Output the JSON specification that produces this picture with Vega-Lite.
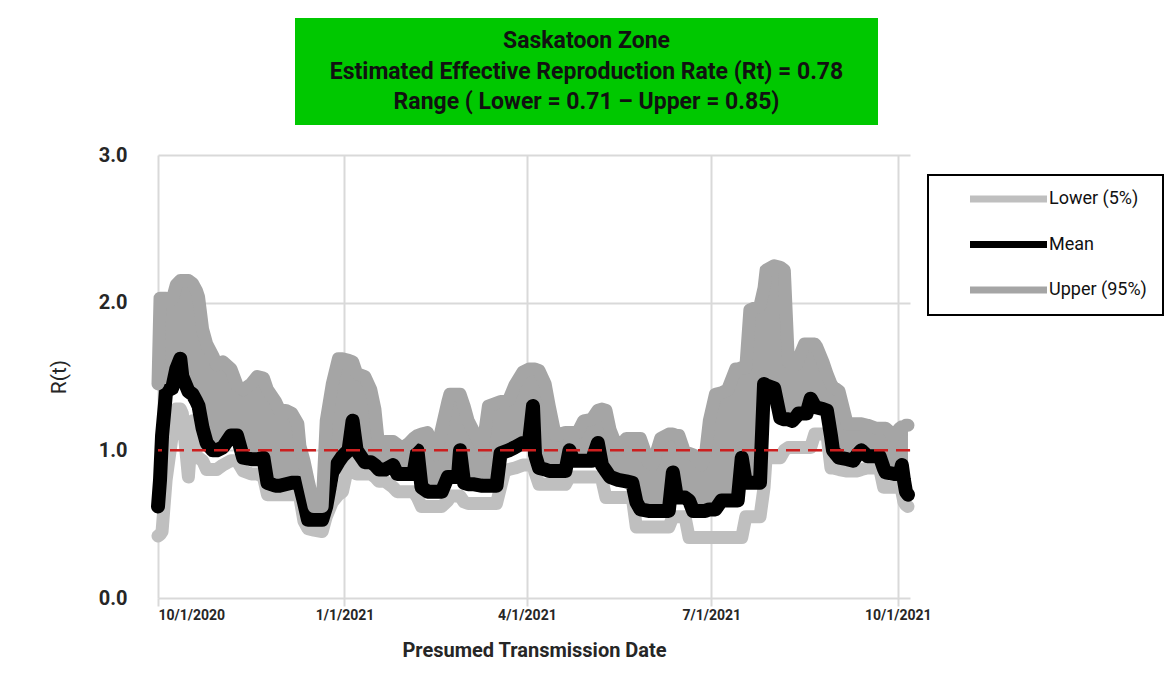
{
  "$schema": "https://vega.github.io/schema/vega-lite/v6.json",
  "autosize": {"type": "none"},
  "padding": {"left": 158, "top": 18, "right": 1014, "bottom": 679},
  "background": "white",
  "spacing": 20,
  "config": {
    "font": "Roboto, sans-serif",
    "view": {"stroke": null},
    "legend": {"strokeWidth": 2}
  },
  "datasets": {
    "rt": [
      {"date":"2020-10-01","lower":0.42,"mean":0.62,"upper":1.45},
      {"date":"2020-10-02","lower":0.43,"mean":0.80,"upper":2.03},
      {"date":"2020-10-03","lower":0.45,"mean":1.10,"upper":2.03},
      {"date":"2020-10-05","lower":0.80,"mean":1.40,"upper":2.03},
      {"date":"2020-10-08","lower":1.10,"mean":1.42,"upper":2.02},
      {"date":"2020-10-10","lower":1.28,"mean":1.55,"upper":2.12},
      {"date":"2020-10-12","lower":1.28,"mean":1.62,"upper":2.15},
      {"date":"2020-10-13","lower":1.25,"mean":1.50,"upper":2.15},
      {"date":"2020-10-16","lower":0.82,"mean":1.40,"upper":2.15},
      {"date":"2020-10-18","lower":1.20,"mean":1.38,"upper":2.13},
      {"date":"2020-10-20","lower":0.95,"mean":1.33,"upper":2.08},
      {"date":"2020-10-21","lower":0.95,"mean":1.30,"upper":2.04},
      {"date":"2020-10-23","lower":0.93,"mean":1.15,"upper":1.82},
      {"date":"2020-10-25","lower":0.87,"mean":1.05,"upper":1.72},
      {"date":"2020-10-28","lower":0.87,"mean":1.00,"upper":1.64},
      {"date":"2020-10-30","lower":0.87,"mean":1.00,"upper":1.58},
      {"date":"2020-11-02","lower":0.90,"mean":1.02,"upper":1.60},
      {"date":"2020-11-06","lower":0.93,"mean":1.10,"upper":1.55},
      {"date":"2020-11-09","lower":0.93,"mean":1.10,"upper":1.44},
      {"date":"2020-11-12","lower":0.86,"mean":0.95,"upper":1.41},
      {"date":"2020-11-16","lower":0.84,"mean":0.94,"upper":1.45},
      {"date":"2020-11-19","lower":0.84,"mean":0.94,"upper":1.50},
      {"date":"2020-11-22","lower":0.82,"mean":0.95,"upper":1.49},
      {"date":"2020-11-24","lower":0.70,"mean":0.78,"upper":1.41},
      {"date":"2020-11-28","lower":0.70,"mean":0.76,"upper":1.33},
      {"date":"2020-11-30","lower":0.70,"mean":0.76,"upper":1.27},
      {"date":"2020-12-03","lower":0.70,"mean":0.77,"upper":1.27},
      {"date":"2020-12-06","lower":0.70,"mean":0.78,"upper":1.25},
      {"date":"2020-12-09","lower":0.70,"mean":0.78,"upper":1.18},
      {"date":"2020-12-10","lower":0.68,"mean":0.76,"upper":1.03},
      {"date":"2020-12-12","lower":0.52,"mean":0.65,"upper":0.93},
      {"date":"2020-12-14","lower":0.47,"mean":0.53,"upper":0.80},
      {"date":"2020-12-17","lower":0.46,"mean":0.53,"upper":0.62},
      {"date":"2020-12-21","lower":0.45,"mean":0.53,"upper":0.62},
      {"date":"2020-12-23","lower":0.55,"mean":0.62,"upper":1.20},
      {"date":"2020-12-26","lower":0.65,"mean":0.85,"upper":1.45},
      {"date":"2020-12-29","lower":0.70,"mean":0.92,"upper":1.62},
      {"date":"2020-12-31","lower":0.72,"mean":0.96,"upper":1.62},
      {"date":"2021-01-03","lower":0.91,"mean":1.00,"upper":1.61},
      {"date":"2021-01-05","lower":0.95,"mean":1.20,"upper":1.60},
      {"date":"2021-01-07","lower":0.84,"mean":1.00,"upper":1.52},
      {"date":"2021-01-11","lower":0.84,"mean":0.92,"upper":1.50},
      {"date":"2021-01-14","lower":0.84,"mean":0.92,"upper":1.41},
      {"date":"2021-01-16","lower":0.82,"mean":0.90,"upper":1.28},
      {"date":"2021-01-18","lower":0.79,"mean":0.87,"upper":1.01},
      {"date":"2021-01-21","lower":0.79,"mean":0.87,"upper":1.06},
      {"date":"2021-01-25","lower":0.75,"mean":0.90,"upper":1.06},
      {"date":"2021-01-27","lower":0.72,"mean":0.84,"upper":1.04},
      {"date":"2021-01-29","lower":0.72,"mean":0.84,"upper":1.01},
      {"date":"2021-02-02","lower":0.72,"mean":0.84,"upper":1.05},
      {"date":"2021-02-04","lower":0.72,"mean":0.84,"upper":1.08},
      {"date":"2021-02-06","lower":0.68,"mean":1.00,"upper":1.10},
      {"date":"2021-02-08","lower":0.62,"mean":0.75,"upper":1.11},
      {"date":"2021-02-11","lower":0.62,"mean":0.72,"upper":1.12},
      {"date":"2021-02-15","lower":0.62,"mean":0.72,"upper":0.97},
      {"date":"2021-02-18","lower":0.62,"mean":0.72,"upper":1.15},
      {"date":"2021-02-21","lower":0.66,"mean":0.82,"upper":1.33},
      {"date":"2021-02-22","lower":0.69,"mean":0.82,"upper":1.38},
      {"date":"2021-02-26","lower":0.69,"mean":0.82,"upper":1.38},
      {"date":"2021-02-27","lower":0.69,"mean":1.00,"upper":1.38},
      {"date":"2021-03-01","lower":0.65,"mean":0.78,"upper":1.30},
      {"date":"2021-03-03","lower":0.64,"mean":0.77,"upper":1.20},
      {"date":"2021-03-06","lower":0.64,"mean":0.77,"upper":1.12},
      {"date":"2021-03-10","lower":0.64,"mean":0.76,"upper":1.00},
      {"date":"2021-03-13","lower":0.64,"mean":0.76,"upper":1.30},
      {"date":"2021-03-17","lower":0.64,"mean":0.76,"upper":1.32},
      {"date":"2021-03-19","lower":0.75,"mean":0.98,"upper":1.33},
      {"date":"2021-03-21","lower":0.86,"mean":0.99,"upper":1.33},
      {"date":"2021-03-23","lower":0.87,"mean":1.00,"upper":1.34},
      {"date":"2021-03-26","lower":0.88,"mean":1.02,"upper":1.44},
      {"date":"2021-03-30","lower":0.90,"mean":1.05,"upper":1.53},
      {"date":"2021-04-02","lower":0.90,"mean":1.05,"upper":1.55},
      {"date":"2021-04-04","lower":0.90,"mean":1.30,"upper":1.55},
      {"date":"2021-04-05","lower":0.85,"mean":0.97,"upper":1.55},
      {"date":"2021-04-07","lower":0.77,"mean":0.88,"upper":1.54},
      {"date":"2021-04-10","lower":0.77,"mean":0.87,"upper":1.45},
      {"date":"2021-04-12","lower":0.77,"mean":0.86,"upper":1.30},
      {"date":"2021-04-15","lower":0.77,"mean":0.86,"upper":1.10},
      {"date":"2021-04-20","lower":0.77,"mean":0.86,"upper":1.12},
      {"date":"2021-04-22","lower":0.82,"mean":1.00,"upper":1.12},
      {"date":"2021-04-24","lower":0.82,"mean":0.93,"upper":1.12},
      {"date":"2021-04-26","lower":0.82,"mean":0.93,"upper":1.12},
      {"date":"2021-04-29","lower":0.82,"mean":0.93,"upper":1.20},
      {"date":"2021-05-03","lower":0.82,"mean":0.93,"upper":1.21},
      {"date":"2021-05-06","lower":0.82,"mean":1.05,"upper":1.27},
      {"date":"2021-05-08","lower":0.80,"mean":0.90,"upper":1.28},
      {"date":"2021-05-10","lower":0.68,"mean":0.86,"upper":1.27},
      {"date":"2021-05-12","lower":0.68,"mean":0.82,"upper":1.14},
      {"date":"2021-05-16","lower":0.68,"mean":0.80,"upper":1.00},
      {"date":"2021-05-20","lower":0.68,"mean":0.79,"upper":1.08},
      {"date":"2021-05-23","lower":0.68,"mean":0.78,"upper":1.08},
      {"date":"2021-05-25","lower":0.48,"mean":0.65,"upper":1.08},
      {"date":"2021-05-27","lower":0.48,"mean":0.60,"upper":1.08},
      {"date":"2021-05-31","lower":0.48,"mean":0.59,"upper":0.92},
      {"date":"2021-06-02","lower":0.48,"mean":0.59,"upper":0.90},
      {"date":"2021-06-06","lower":0.48,"mean":0.59,"upper":1.08},
      {"date":"2021-06-10","lower":0.48,"mean":0.59,"upper":1.11},
      {"date":"2021-06-12","lower":0.55,"mean":0.85,"upper":1.11},
      {"date":"2021-06-14","lower":0.55,"mean":0.68,"upper":1.10},
      {"date":"2021-06-15","lower":0.55,"mean":0.68,"upper":1.10},
      {"date":"2021-06-18","lower":0.55,"mean":0.68,"upper":0.98},
      {"date":"2021-06-20","lower":0.41,"mean":0.66,"upper":0.98},
      {"date":"2021-06-22","lower":0.41,"mean":0.59,"upper":0.97},
      {"date":"2021-06-26","lower":0.41,"mean":0.59,"upper":0.90},
      {"date":"2021-06-28","lower":0.41,"mean":0.59,"upper":0.96},
      {"date":"2021-06-30","lower":0.41,"mean":0.60,"upper":1.20},
      {"date":"2021-07-03","lower":0.41,"mean":0.60,"upper":1.38},
      {"date":"2021-07-06","lower":0.41,"mean":0.66,"upper":1.39},
      {"date":"2021-07-09","lower":0.41,"mean":0.66,"upper":1.41},
      {"date":"2021-07-13","lower":0.41,"mean":0.66,"upper":1.55},
      {"date":"2021-07-14","lower":0.41,"mean":0.66,"upper":1.55},
      {"date":"2021-07-16","lower":0.41,"mean":0.95,"upper":1.56},
      {"date":"2021-07-18","lower":0.55,"mean":0.78,"upper":1.56},
      {"date":"2021-07-20","lower":0.55,"mean":0.78,"upper":1.95},
      {"date":"2021-07-25","lower":0.55,"mean":0.78,"upper":1.98},
      {"date":"2021-07-27","lower":0.75,"mean":1.45,"upper":2.10},
      {"date":"2021-07-28","lower":0.95,"mean":1.44,"upper":2.22},
      {"date":"2021-08-01","lower":0.95,"mean":1.42,"upper":2.25},
      {"date":"2021-08-04","lower":0.95,"mean":1.22,"upper":2.24},
      {"date":"2021-08-06","lower":1.00,"mean":1.21,"upper":2.22},
      {"date":"2021-08-08","lower":1.02,"mean":1.21,"upper":1.60},
      {"date":"2021-08-10","lower":1.02,"mean":1.20,"upper":1.59},
      {"date":"2021-08-12","lower":1.02,"mean":1.23,"upper":1.58},
      {"date":"2021-08-13","lower":1.02,"mean":1.25,"upper":1.62},
      {"date":"2021-08-16","lower":1.02,"mean":1.25,"upper":1.72},
      {"date":"2021-08-17","lower":1.02,"mean":1.25,"upper":1.72},
      {"date":"2021-08-19","lower":1.02,"mean":1.35,"upper":1.72},
      {"date":"2021-08-21","lower":1.11,"mean":1.30,"upper":1.72},
      {"date":"2021-08-22","lower":1.11,"mean":1.29,"upper":1.70},
      {"date":"2021-08-25","lower":1.11,"mean":1.28,"upper":1.60},
      {"date":"2021-08-27","lower":1.11,"mean":1.27,"upper":1.52},
      {"date":"2021-08-29","lower":0.88,"mean":1.10,"upper":1.45},
      {"date":"2021-08-30","lower":0.88,"mean":1.00,"upper":1.43},
      {"date":"2021-09-02","lower":0.87,"mean":0.95,"upper":1.40},
      {"date":"2021-09-06","lower":0.86,"mean":0.94,"upper":1.18},
      {"date":"2021-09-09","lower":0.86,"mean":0.93,"upper":1.18},
      {"date":"2021-09-11","lower":0.86,"mean":0.97,"upper":1.18},
      {"date":"2021-09-13","lower":0.87,"mean":1.00,"upper":1.18},
      {"date":"2021-09-16","lower":0.88,"mean":0.96,"upper":1.17},
      {"date":"2021-09-20","lower":0.88,"mean":0.96,"upper":1.15},
      {"date":"2021-09-22","lower":0.88,"mean":0.96,"upper":1.15},
      {"date":"2021-09-24","lower":0.75,"mean":0.88,"upper":1.15},
      {"date":"2021-09-25","lower":0.75,"mean":0.85,"upper":1.15},
      {"date":"2021-09-29","lower":0.75,"mean":0.84,"upper":1.10},
      {"date":"2021-10-02","lower":0.75,"mean":0.84,"upper":1.15},
      {"date":"2021-10-03","lower":0.72,"mean":0.90,"upper":1.16},
      {"date":"2021-10-04","lower":0.65,"mean":0.80,"upper":1.16},
      {"date":"2021-10-05","lower":0.63,"mean":0.72,"upper":1.17},
      {"date":"2021-10-06","lower":0.62,"mean":0.70,"upper":1.17}
    ]
  },
  "vconcat": [
    {
      "spacing": 0,
      "hconcat": [
        {
          "width": 137,
          "height": 107,
          "data": {"values": [{"t": ""}]},
          "mark": {"type": "text"},
          "encoding": {"text": {"field": "t"}}
        },
        {
          "width": 583,
          "height": 107,
          "view": {"fill": "#00c800", "stroke": null},
          "data": {"values": [
            {"line": 1, "text": "Saskatoon Zone"},
            {"line": 2, "text": "Estimated Effective Reproduction Rate (Rt) = 0.78"},
            {"line": 3, "text": "Range ( Lower = 0.71 – Upper = 0.85)"}
          ]},
          "mark": {"type": "text", "fontSize": 23, "fontWeight": "bold", "color": "#111111", "align": "center", "baseline": "middle"},
          "encoding": {
            "y": {"field": "line", "type": "ordinal", "axis": null, "scale": {"type": "point", "padding": 0.726}},
            "text": {"field": "text"}
          }
        }
      ]
    },
    {
      "width": 752,
      "height": 443,
      "data": {"name": "rt"},
      "layer": [
        {
          "mark": {"type": "line", "strokeWidth": 13, "strokeCap": "round", "strokeJoin": "round"},
          "encoding": {
            "x": {
              "field": "date", "type": "temporal", "title": "Presumed Transmission Date",
              "scale": {"type": "utc", "domain": [{"year": 2020, "month": 10, "date": 1, "utc": true}, {"year": 2021, "month": 10, "date": 7, "utc": true}]},
              "axis": {
                "values": [
                  {"year": 2020, "month": 10, "date": 1, "utc": true},
                  {"year": 2021, "month": 1, "date": 1, "utc": true},
                  {"year": 2021, "month": 4, "date": 1, "utc": true},
                  {"year": 2021, "month": 7, "date": 1, "utc": true},
                  {"year": 2021, "month": 10, "date": 1, "utc": true}
                ],
                "format": "%-m/%-d/%Y",
                "grid": true, "gridColor": "#d9d9d9", "gridWidth": 2,
                "domain": false,
                "ticks": true, "tickColor": "#d9d9d9", "tickWidth": 2, "tickSize": 8,
                "labelFontSize": 14, "labelFontWeight": "bold", "labelColor": "#262626", "labelPadding": 2,
                "titleFontSize": 20, "titleFontWeight": "bold", "titleColor": "#262626", "titlePadding": 18
              }
            },
            "y": {
              "field": "lower", "type": "quantitative", "title": "R(t)",
              "scale": {"domain": [0, 3], "nice": false},
              "axis": {
                "values": [0, 1, 2, 3], "format": ".1f",
                "grid": true, "gridColor": "#d9d9d9", "gridWidth": 2,
                "domain": false, "ticks": false,
                "labelFontSize": 20, "labelFontWeight": "bold", "labelColor": "#262626", "labelPadding": 31,
                "titleFontSize": 21, "titleFontWeight": "normal", "titleColor": "#262626", "titlePadding": 29
              }
            },
            "color": {
              "datum": "Lower (5%)", "type": "nominal",
              "scale": {"domain": ["Lower (5%)", "Mean", "Upper (95%)"], "range": ["#bfbfbf", "#000000", "#a5a5a5"]},
              "legend": {
                "orient": "none", "legendX": 770, "legendY": 157, "title": null,
                "symbolType": "stroke", "symbolSize": 5929, "symbolStrokeWidth": 7,
                "clipHeight": 16, "rowPadding": 27.5, "padding": 16,
                "symbolOffset": 22.5, "labelOffset": -1.5,
                "labelFontSize": 18, "labelColor": "#111111",
                "strokeColor": "#000000", "fillColor": "#ffffff"
              }
            }
          }
        },
        {
          "mark": {"type": "area", "color": "#a5a5a5"},
          "encoding": {
            "x": {"field": "date", "type": "temporal", "title": "Presumed Transmission Date"},
            "y": {"field": "upper", "type": "quantitative", "title": "R(t)"},
            "y2": {"field": "mean"}
          }
        },
        {
          "mark": {"type": "line", "strokeWidth": 14, "strokeCap": "round", "strokeJoin": "round"},
          "encoding": {
            "x": {"field": "date", "type": "temporal", "title": "Presumed Transmission Date"},
            "y": {"field": "mean", "type": "quantitative", "title": "R(t)"},
            "color": {"datum": "Mean", "type": "nominal"}
          }
        },
        {
          "mark": {"type": "line", "strokeWidth": 13, "strokeCap": "round", "strokeJoin": "round"},
          "encoding": {
            "x": {"field": "date", "type": "temporal", "title": "Presumed Transmission Date"},
            "y": {"field": "upper", "type": "quantitative", "title": "R(t)"},
            "color": {"datum": "Upper (95%)", "type": "nominal"}
          }
        },
        {
          "data": {"values": [{"k": 1}]},
          "mark": {"type": "rule", "color": "#cc1f1f", "strokeWidth": 2.5, "strokeDash": [14, 8]},
          "encoding": {"y": {"datum": 1}}
        }
      ]
    }
  ]
}
